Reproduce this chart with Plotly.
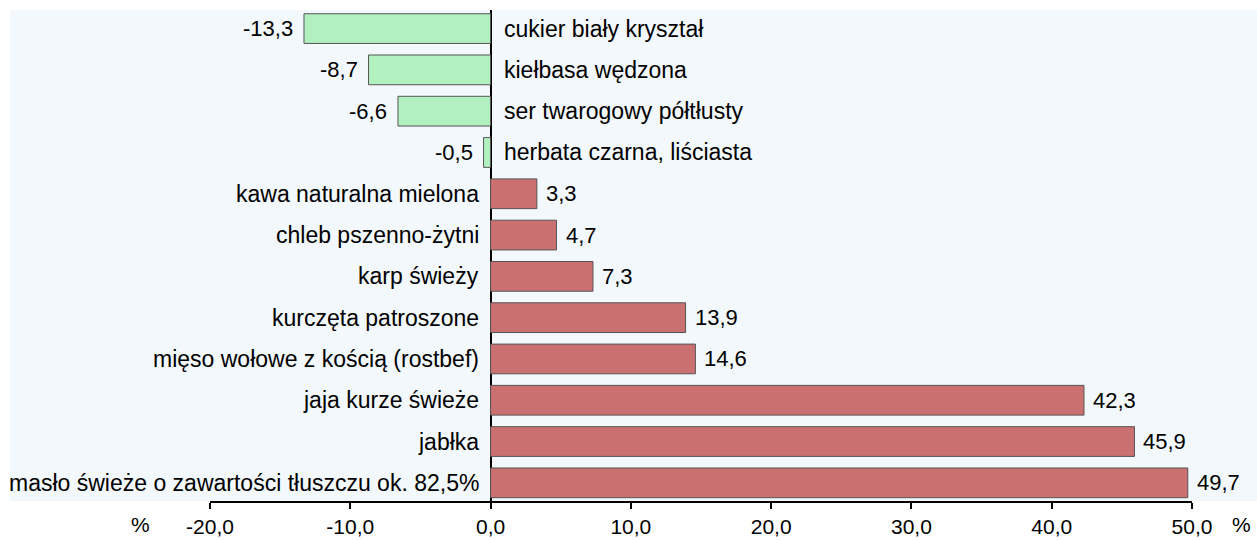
import plotly.graph_objects as go

categories = [
    "cukier biały kryształ",
    "kiełbasa wędzona",
    "ser twarogowy półtłusty",
    "herbata czarna, liściasta",
    "kawa naturalna mielona",
    "chleb pszenno-żytni",
    "karp świeży",
    "kurczęta patroszone",
    "mięso wołowe z kością (rostbef)",
    "jaja kurze świeże",
    "jabłka",
    "masło świeże o zawartości tłuszczu ok. 82,5%",
]
values = [-13.3, -8.7, -6.6, -0.5, 3.3, 4.7, 7.3, 13.9, 14.6, 42.3, 45.9, 49.7]
tick_values = [-20, -10, 0, 10, 20, 30, 40, 50]
tick_labels = ["-20,0", "-10,0", "0,0", "10,0", "20,0", "30,0", "40,0", "50,0"]

GREEN = "#b3f0c0"
RED = "#cb7070"
BG = "#f3f8fc"
FONT = "Liberation Sans, Arial, sans-serif"
FS = 22
FS_CAT = 23
FS_TICK = 21

colors = [GREEN if v < 0 else RED for v in values]

fig = go.Figure(
    go.Bar(
        x=values,
        y=categories,
        orientation="h",
        marker=dict(color=colors, line=dict(color="#555555", width=1)),
        width=0.72,
        hoverinfo="skip",
    )
)

annotations = []
for c, v in zip(categories, values):
    fmt = f"{v:.1f}".replace(".", ",")
    if v >= 0:
        annotations.append(dict(x=v, y=c, xref="x", yref="y", text=fmt, showarrow=False,
                                xanchor="left", xshift=7, font=dict(size=FS, color="black", family=FONT)))
        annotations.append(dict(x=0, y=c, xref="x", yref="y", text=c, showarrow=False,
                                xanchor="right", xshift=-10, font=dict(size=FS_CAT, color="black", family=FONT)))
    else:
        annotations.append(dict(x=v, y=c, xref="x", yref="y", text=fmt, showarrow=False,
                                xanchor="right", xshift=-9, font=dict(size=FS, color="black", family=FONT)))
        annotations.append(dict(x=0, y=c, xref="x", yref="y", text=c, showarrow=False,
                                xanchor="left", xshift=11, font=dict(size=FS_CAT, color="black", family=FONT)))

annotations.append(dict(x=-20, y=0, xref="x", yref="paper", text="%", showarrow=False,
                        xanchor="right", yanchor="top", xshift=-58, yshift=-10,
                        font=dict(size=FS_TICK, color="black", family=FONT)))
annotations.append(dict(x=50, y=0, xref="x", yref="paper", text="%", showarrow=False,
                        xanchor="left", yanchor="top", xshift=38, yshift=-10,
                        font=dict(size=FS_TICK, color="black", family=FONT)))

fig.update_layout(
    width=1257,
    height=540,
    margin=dict(l=210, r=65, t=10, b=39, autoexpand=False),
    paper_bgcolor="white",
    plot_bgcolor=BG,
    showlegend=False,
    annotations=annotations,
    shapes=[dict(type="rect", xref="paper", yref="paper",
                 x0=-200 / 982, x1=1047 / 982, y0=0, y1=1,
                 fillcolor=BG, line=dict(width=0), layer="below")],
    xaxis=dict(
        range=[-20, 50],
        tickvals=tick_values,
        ticktext=tick_labels,
        showgrid=False,
        zeroline=True,
        zerolinecolor="black",
        zerolinewidth=2,
        showline=True,
        linecolor="black",
        linewidth=2,
        ticks="outside",
        ticklen=6,
        tickwidth=2,
        tickcolor="black",
        ticklabelstandoff=0,
        tickfont=dict(size=FS_TICK, color="black", family=FONT),
        automargin=False,
        fixedrange=True,
    ),
    yaxis=dict(
        range=[11.44, -0.45],
        showticklabels=False,
        showgrid=False,
        zeroline=False,
        showline=False,
        ticks="",
        automargin=False,
        fixedrange=True,
    ),
)

fig.write_html(
    "out.html",
    config={"displayModeBar": False},
    post_script="document.body.style.margin='0';document.body.style.overflow='hidden';",
)
